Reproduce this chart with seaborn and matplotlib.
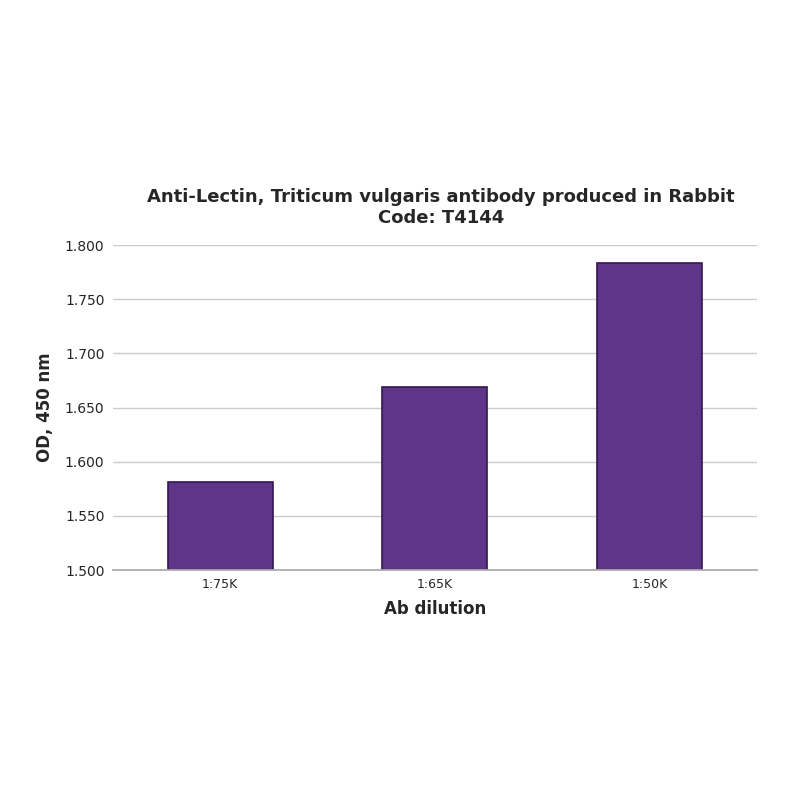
import matplotlib
matplotlib.use("Agg")
import matplotlib.pyplot as plt
import seaborn as sns
import pandas as pd

# Data
dilutions = ["1:75K", "1:65K", "1:50K"]
od_values = [1.581, 1.669, 1.784]
y_ticks = [1.500, 1.550, 1.600, 1.650, 1.700, 1.750, 1.800]

df = pd.DataFrame({"Ab dilution": dilutions, "OD": od_values})

sns.set_theme(style="white")
plt.rcParams['font.family'] = ['Verdana', 'DejaVu Sans']

fig = plt.figure(figsize=(8, 8), dpi=100)
ax = fig.add_axes([0.141, 0.2875, 0.805, 0.406])

sns.barplot(data=df, x="Ab dilution", y="OD", color="#5e3589",
            edgecolor="#33174f", linewidth=1.2, width=0.49, saturation=1, ax=ax)

ax.set_ylim(1.5, 1.8)
ax.set_yticks(y_ticks)
ax.set_yticklabels([f"{v:.3f}" for v in y_ticks], fontsize=10)
ax.tick_params(axis="x", labelsize=9, length=0, pad=6)
ax.tick_params(axis="y", length=0, pad=6)
ax.yaxis.grid(True, color="#cccccc", linewidth=1)
ax.set_axisbelow(True)
for s in ["top", "right", "left"]:
    ax.spines[s].set_visible(False)
ax.spines["bottom"].set_color("#aaaaaa")

ax.set_xlabel("Ab dilution", fontsize=12, fontweight="bold", labelpad=6)
ax.set_ylabel("OD, 450 nm", fontsize=12, fontweight="bold", labelpad=8)
ax.set_title("Anti-Lectin, Triticum vulgaris antibody produced in Rabbit\nCode: T4144",
             fontsize=13, fontweight="bold", pad=16, x=0.51)

fig.savefig("out.png", dpi=100, facecolor="white")
